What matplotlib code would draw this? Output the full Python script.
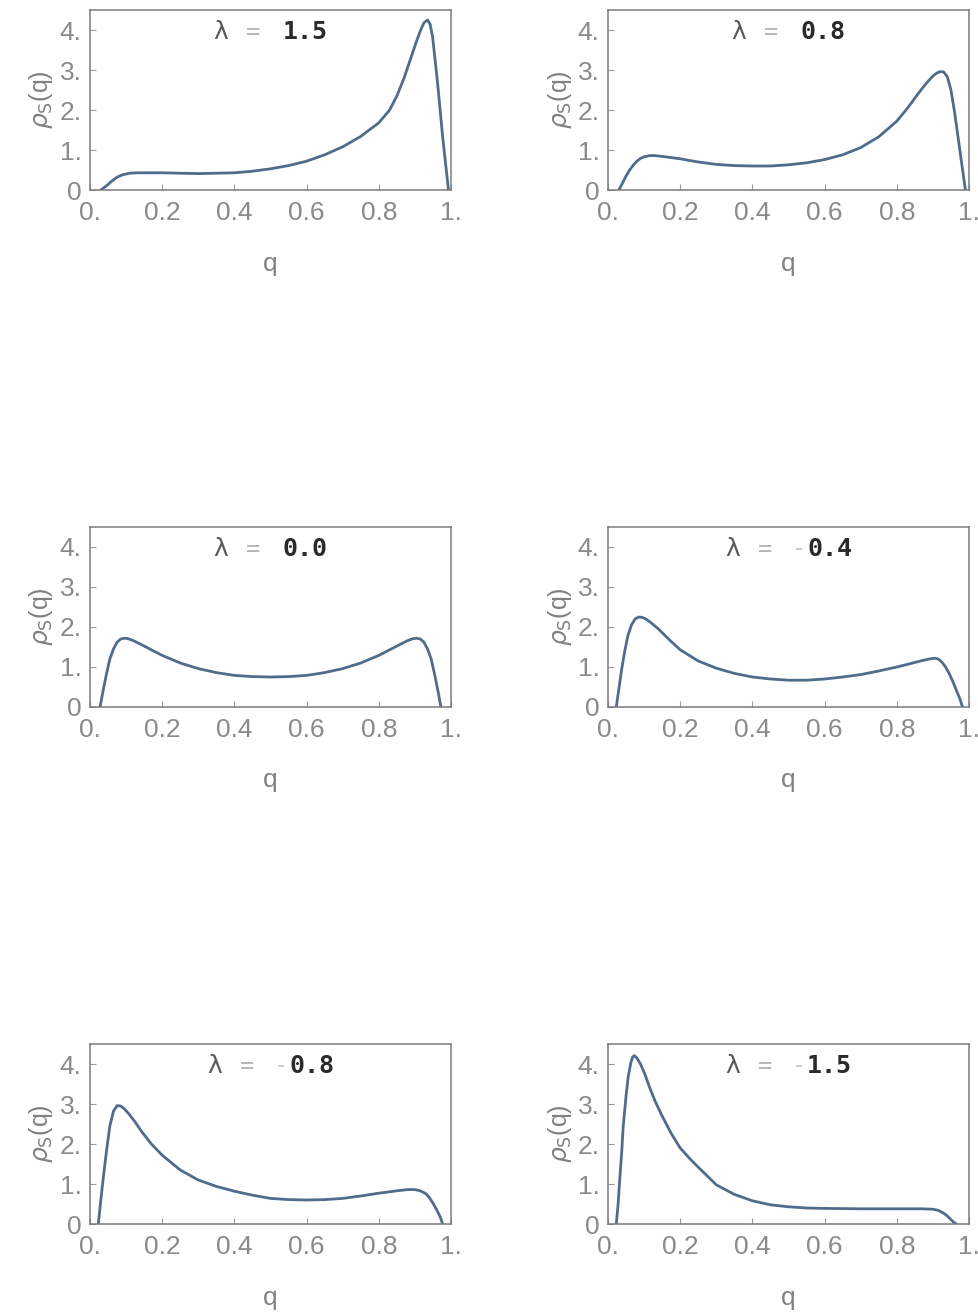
import numpy as np
import matplotlib
matplotlib.use('Agg')
from matplotlib import pyplot as plt

plt.rcParams['font.family'] = ['Liberation Sans', 'DejaVu Sans']
plt.rcParams['mathtext.fontset'] = 'dejavusans'

# values, one curve per lambda
lambdas = [1.5, 0.8, 0.0, -0.4, -0.8, -1.5]

q_15 = [0.03, 0.045, 0.06, 0.075, 0.09, 0.11, 0.13, 0.16, 0.2, 0.25, 0.3, 0.35, 0.4, 0.45, 0.5, 0.55,
        0.6, 0.65, 0.7, 0.75, 0.8, 0.83, 0.85, 0.87, 0.885, 0.9, 0.915, 0.925, 0.935, 0.942, 0.949,
        0.963, 0.977, 0.993]
p_15 = [0.0, 0.1, 0.22, 0.32, 0.38, 0.42, 0.43, 0.43, 0.43, 0.42, 0.41, 0.42, 0.43, 0.47, 0.53, 0.61,
        0.72, 0.88, 1.08, 1.34, 1.68, 2.0, 2.35, 2.8, 3.2, 3.6, 3.98, 4.18, 4.25, 4.15, 3.83,
        2.66, 1.32, 0.0]

q_08 = [0.03, 0.04, 0.05, 0.06, 0.07, 0.08, 0.09, 0.1, 0.115, 0.13, 0.15, 0.175, 0.2, 0.25, 0.3, 0.35,
        0.4, 0.45, 0.5, 0.55, 0.6, 0.65, 0.7, 0.75, 0.8, 0.83, 0.86, 0.88, 0.9, 0.91, 0.92, 0.93, 0.94,
        0.95, 0.96, 0.97, 0.98, 0.99]
p_08 = [0.0, 0.17, 0.35, 0.5, 0.62, 0.72, 0.79, 0.83, 0.86, 0.86, 0.84, 0.81, 0.78, 0.7, 0.64, 0.61,
        0.6, 0.6, 0.63, 0.68, 0.76, 0.88, 1.06, 1.33, 1.72, 2.05, 2.42, 2.65, 2.85, 2.92, 2.96, 2.95, 2.83,
        2.5, 1.95, 1.3, 0.65, 0.0]

q_00 = [0.028, 0.035, 0.045, 0.055, 0.065, 0.075, 0.085, 0.095, 0.105, 0.12, 0.14, 0.17, 0.2, 0.25,
        0.3, 0.35, 0.4, 0.45, 0.5, 0.55, 0.6, 0.65, 0.7, 0.75, 0.8, 0.83, 0.86, 0.88, 0.895, 0.905,
        0.915, 0.925, 0.935, 0.945, 0.955, 0.965, 0.972]
p_00 = [0.0, 0.35, 0.8, 1.2, 1.45, 1.62, 1.7, 1.72, 1.71, 1.66, 1.57, 1.43, 1.29, 1.1,
        0.96, 0.86, 0.79, 0.76, 0.75, 0.76, 0.79, 0.86, 0.96, 1.1, 1.29, 1.43, 1.57, 1.66, 1.71, 1.72,
        1.7, 1.62, 1.45, 1.2, 0.8, 0.35, 0.0]

q_m04 = [0.023, 0.03, 0.038, 0.046, 0.055, 0.065, 0.075, 0.085, 0.095, 0.105, 0.12, 0.14, 0.17, 0.2,
         0.25, 0.3, 0.35, 0.4, 0.45, 0.5, 0.55, 0.6, 0.65, 0.7, 0.75, 0.8, 0.84, 0.87, 0.89, 0.905,
         0.915, 0.925, 0.935, 0.945, 0.955, 0.965, 0.975, 0.982]
p_m04 = [0.0, 0.45, 0.95, 1.38, 1.78, 2.05, 2.2, 2.25, 2.24, 2.2, 2.1, 1.95, 1.68, 1.43,
         1.15, 0.97, 0.84, 0.75, 0.7, 0.67, 0.67, 0.7, 0.75, 0.81, 0.9, 1.0, 1.09, 1.16, 1.2, 1.22,
         1.2, 1.12, 1.0, 0.84, 0.64, 0.42, 0.2, 0.0]

q_m08 = [0.023, 0.03, 0.038, 0.046, 0.055, 0.065, 0.075, 0.085, 0.095, 0.108, 0.125, 0.144, 0.17, 0.2,
         0.25, 0.3, 0.35, 0.4, 0.45, 0.5, 0.55, 0.6, 0.65, 0.7, 0.75, 0.8, 0.85, 0.88, 0.9, 0.915,
         0.93, 0.94, 0.95, 0.96, 0.97, 0.977]
p_m08 = [0.0, 0.6, 1.25, 1.85, 2.45, 2.82, 2.96, 2.95, 2.88, 2.75, 2.55, 2.3, 2.0, 1.72,
         1.35, 1.1, 0.94, 0.82, 0.72, 0.64, 0.61, 0.6, 0.61, 0.64, 0.7, 0.77, 0.83, 0.86, 0.86, 0.83,
         0.76, 0.66, 0.52, 0.36, 0.18, 0.0]

q_m15 = [0.023, 0.028, 0.033, 0.038, 0.042, 0.05, 0.056, 0.063, 0.068, 0.073, 0.08, 0.09, 0.102, 0.115,
         0.13, 0.15, 0.176, 0.2, 0.227, 0.25, 0.3, 0.35, 0.4, 0.45, 0.5, 0.55, 0.6, 0.7, 0.8, 0.87,
         0.9, 0.915, 0.93, 0.94, 0.95, 0.958, 0.965]
p_m15 = [0.0, 0.5, 1.18, 1.8, 2.43, 3.2, 3.68, 4.02, 4.17, 4.21, 4.15, 4.0, 3.75, 3.42,
         3.08, 2.7, 2.25, 1.9, 1.63, 1.42, 0.98, 0.74, 0.58, 0.48, 0.43, 0.4, 0.39, 0.38, 0.38, 0.38,
         0.37, 0.34, 0.27, 0.2, 0.11, 0.04, 0.0]

qs = [q_15, q_08, q_00, q_m04, q_m08, q_m15]
ps = [p_15, p_08, p_00, p_m04, p_m08, p_m15]

xticks = [0, 0.2, 0.4, 0.6, 0.8, 1.0]
xticklabels = ['0.', '0.2', '0.4', '0.6', '0.8', '1.']
yticks = [0, 1, 2, 3, 4]
yticklabels = ['0', '1.', '2.', '3.', '4.']

W, H = 979, 1313
fig = plt.figure(figsize=(W / 100, H / 100), dpi=100)

lefts = [90, 608]
tops = [10, 527, 1044]
aw, ah = 361, 180

line_col = '#4f6c8c'
frame_col = '#7a7a7a'
tick_col = '#8a8a8a'


def lam_label(ax, lam):
    s = f'{lam:.1f}'
    t0 = ax.text(0.5, 0.81, 'λ', transform=ax.transAxes, ha='left', va='bottom',
                 fontsize=18, color='#5a5a5a', family='DejaVu Sans')
    t1 = ax.annotate('=', xy=(1, 0), xycoords=t0, xytext=(13, 0), textcoords='offset points',
                     ha='left', va='bottom', fontsize=17, color='#b5b5b5', family='DejaVu Sans Mono')
    parts = [t0, t1]
    gap = 16
    if s.startswith('-'):
        t2 = ax.annotate('-', xy=(1, 0), xycoords=t1, xytext=(14, 0), textcoords='offset points',
                         ha='left', va='bottom', fontsize=17, color='#c8c8c8', family='DejaVu Sans Mono')
        parts.append(t2)
        s = s[1:]
        gap = 1
    t3 = ax.annotate(s, xy=(1, 0), xycoords=parts[-1], xytext=(gap, 0), textcoords='offset points',
                     ha='left', va='bottom', fontsize=18, fontweight='bold', color='#2a2a2a',
                     family='DejaVu Sans Mono')
    parts.append(t3)
    return parts


labels = []
for i, lam in enumerate(lambdas):
    r, c = divmod(i, 2)
    ax = fig.add_axes([lefts[c] / W, 1 - (tops[r] + ah) / H, aw / W, ah / H])
    ax.plot(qs[i], ps[i], color=line_col, lw=2.0, solid_joinstyle='round')
    ax.set_xlim(0, 1)
    ax.set_ylim(0, 4.5)
    ax.set_xticks(xticks)
    ax.set_xticklabels(xticklabels)
    ax.set_yticks(yticks)
    ax.set_yticklabels(yticklabels)
    ax.tick_params(direction='in', length=4, width=0.8, color='#9a9a9a',
                   labelsize=19, labelcolor=tick_col)
    ax.tick_params(axis='x', pad=8)
    ax.tick_params(axis='y', pad=6)
    for sp in ax.spines.values():
        sp.set_color(frame_col)
        sp.set_linewidth(1.1)
    ax.set_xlabel('q', fontsize=19, color='#808080', labelpad=19)
    ax.set_ylabel(r'$\rho_{\mathrm{S}}$(q)', fontsize=18, color='#808080', labelpad=3)
    labels.append((ax, lam_label(ax, lam)))

# centre each lambda label on its panel
fig.canvas.draw()
rend = fig.canvas.get_renderer()
for ax, parts in labels:
    x0 = min(p.get_window_extent(rend).x0 for p in parts)
    x1 = max(p.get_window_extent(rend).x1 for p in parts)
    inv = ax.transAxes.inverted()
    a0 = inv.transform((x0, 0))[0]
    a1 = inv.transform((x1, 0))[0]
    px, py = parts[0].get_position()
    parts[0].set_position((px + 0.5 - (a0 + a1) / 2, py))

fig.savefig('out.png', dpi=100)
